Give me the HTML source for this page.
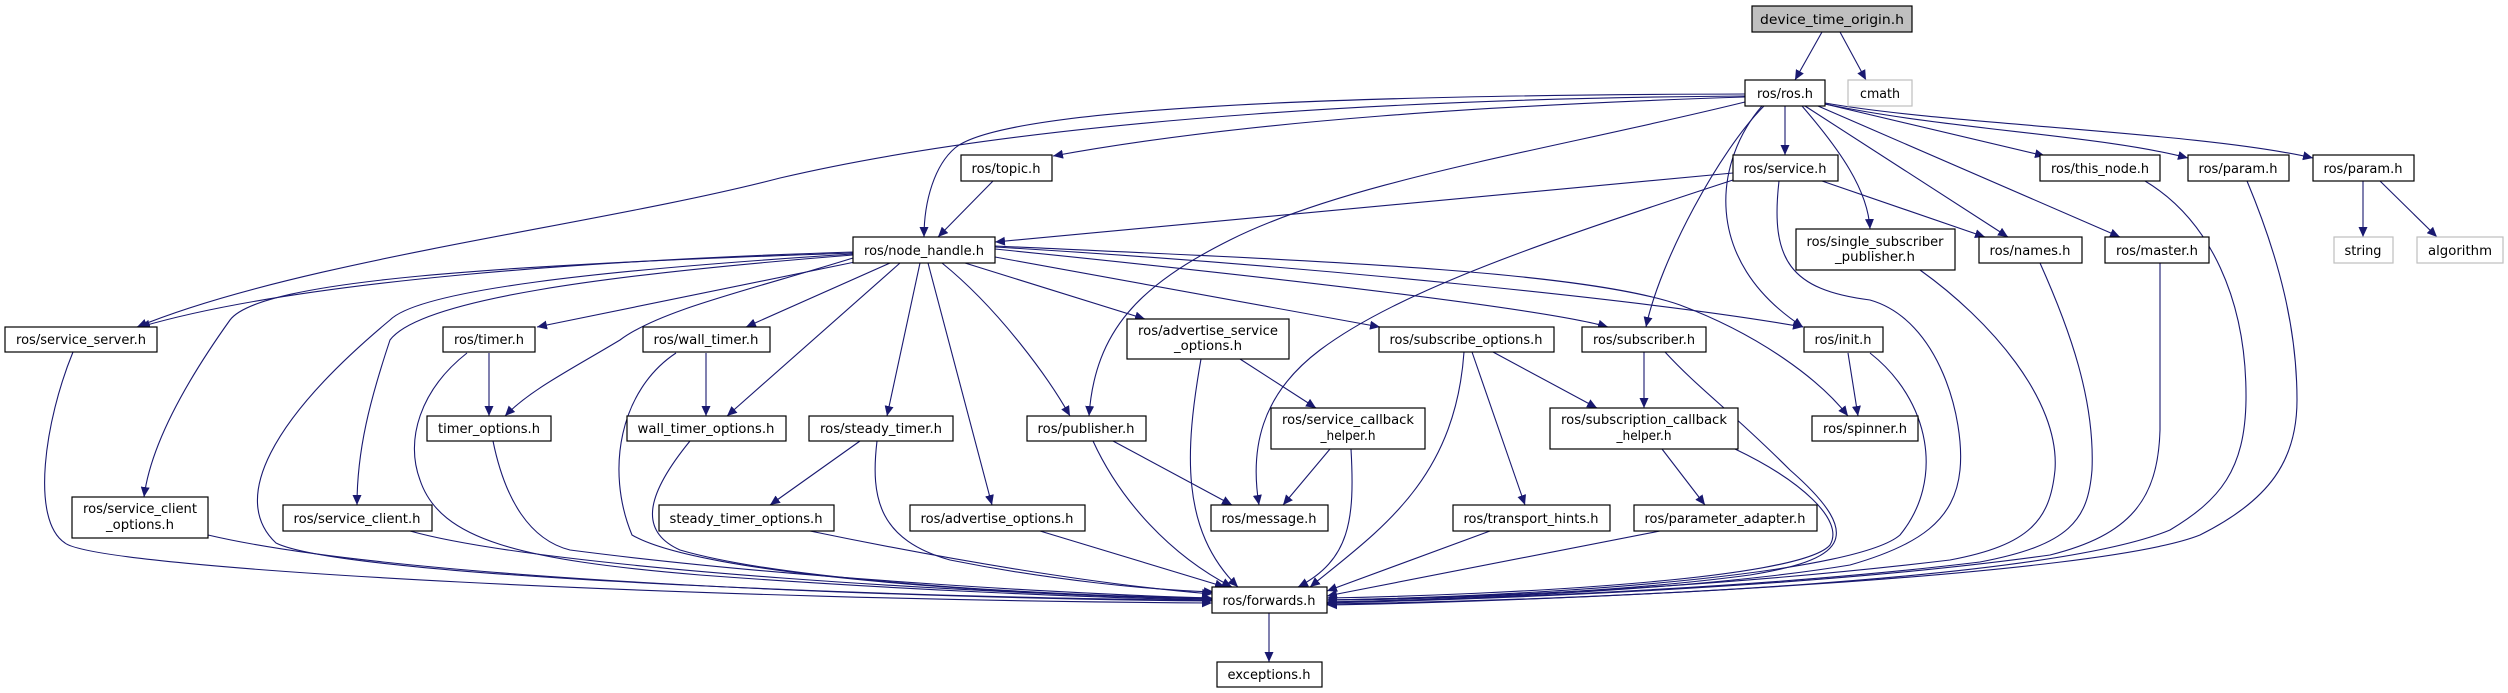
<!DOCTYPE html>
<html><head><meta charset="utf-8"><style>
html,body{margin:0;padding:0;background:#fff}
svg{display:block}
text{font-family:"DejaVu Sans","Liberation Sans",sans-serif;font-size:13px;fill:#000}
.e{fill:none;stroke:#191970;stroke-width:1.1}
.n{fill:#fff;stroke:#000;stroke-width:1.2}
.g{fill:#fff;stroke:#bfbfbf;stroke-width:1.2}
</style></head><body>
<svg width="2508" height="693" viewBox="0 0 2508 693" xmlns="http://www.w3.org/2000/svg">
<defs><marker id="a" markerUnits="userSpaceOnUse" markerWidth="11" markerHeight="9" refX="10" refY="4.5" orient="auto"><path d="M0,0 L10,4.5 L0,9 z" fill="#191970"/></marker></defs>
<g class="e" marker-end="url(#a)">
<path d="M1822,32 L1795,80"/>
<path d="M1840,32 L1866,80"/>
<path d="M1745,97 C1500,105 1250,120 1053,156"/>
<path d="M1745,94 C1300,95 1000,110 955,148 C935,165 924,200 924,237"/>
<path d="M1745,96 C1450,98 1050,115 780,178 C600,225 300,260 137,327"/>
<path d="M1745,102 C1550,150 1350,180 1230,240 C1140,285 1095,330 1089,416"/>
<path d="M1785,106 L1785,155"/>
<path d="M1802,106 C1840,150 1868,190 1870,229"/>
<path d="M1805,106 L2008,237"/>
<path d="M1818,106 L2120,237"/>
<path d="M1825,104 L2045,156"/>
<path d="M1825,104 C1950,130 2100,135 2188,158"/>
<path d="M1825,103 C1950,125 2200,132 2313,158"/>
<path d="M1764,106 C1720,150 1660,260 1646,327"/>
<path d="M1762,106 C1715,160 1700,260 1803,327"/>
<path d="M993,181 L938,237"/>
<path d="M1733,173 C1450,200 1200,225 995,242"/>
<path d="M1733,180 C1550,240 1400,290 1320,350 C1260,395 1250,450 1259,505"/>
<path d="M1822,181 L1985,237"/>
<path d="M1779,181 C1770,260 1790,290 1870,300 C1940,320 1965,420 1960,470 C1955,520 1920,545 1850,565 C1700,590 1450,600 1327,602"/>
<path d="M1870,353 C1930,400 1945,480 1900,535 C1860,570 1600,595 1327,600"/>
<path d="M1920,270 C1990,320 2060,400 2055,470 C2050,520 2030,545 1950,560 C1700,590 1450,598 1327,600"/>
<path d="M2040,263 C2070,330 2095,400 2092,470 C2088,520 2070,545 1980,562 C1750,590 1450,600 1327,602"/>
<path d="M2160,263 L2160,430 C2158,500 2130,535 2050,555 C1800,590 1450,600 1327,603"/>
<path d="M2145,181 C2210,220 2247,300 2246,400 C2245,470 2220,500 2170,530 C2050,580 1600,600 1327,604"/>
<path d="M2247,181 C2280,260 2297,330 2297,400 C2297,460 2270,500 2200,535 C2100,575 1600,600 1327,605"/>
<path d="M2363,181 L2363,237"/>
<path d="M2380,181 L2437,237"/>
<path d="M1644,352 L1644,408"/>
<path d="M1665,352 C1700,390 1730,410 1790,470 C1870,540 1840,560 1750,575 C1600,595 1400,600 1327,600"/>
<path d="M1662,449 L1705,505"/>
<path d="M1735,449 C1800,480 1845,520 1830,545 C1800,580 1500,595 1327,598"/>
<path d="M1848,353 L1858,416"/>
<path d="M995,246 C1300,260 1580,270 1680,305 C1760,335 1820,380 1848,416"/>
<path d="M995,247 C1300,265 1650,300 1803,327"/>
<path d="M995,249 C1300,280 1550,310 1608,327"/>
<path d="M995,257 L1380,327"/>
<path d="M965,263 L1145,319"/>
<path d="M942,263 C1000,310 1050,380 1070,416"/>
<path d="M928,263 L992,505"/>
<path d="M920,263 L887,416"/>
<path d="M853,252 C600,260 300,280 140,327"/>
<path d="M853,253 C500,265 260,280 230,320 C180,390 150,450 144,497"/>
<path d="M853,254 C600,270 420,290 390,320 C270,420 230,500 276,543 C350,580 1000,600 1212,600"/>
<path d="M853,255 C600,275 420,300 390,340 C370,400 357,450 357,505"/>
<path d="M853,258 C750,290 660,310 620,340 C570,370 530,390 505,416"/>
<path d="M855,262 L537,327"/>
<path d="M890,263 L746,327"/>
<path d="M900,263 L727,416"/>
<path d="M489,353 L489,416"/>
<path d="M467,353 C420,390 405,440 420,480 C440,540 520,560 700,575 C900,590 1100,598 1212,600"/>
<path d="M706,353 L706,416"/>
<path d="M676,353 C620,390 605,470 632,535 C700,575 1000,595 1212,599"/>
<path d="M493,441 C505,500 530,540 570,550 C800,580 1100,595 1212,598"/>
<path d="M690,441 C650,490 635,530 680,550 C800,585 1100,597 1212,598"/>
<path d="M73,352 C45,420 30,520 65,543 C100,570 700,600 1212,603"/>
<path d="M208,535 C400,580 900,598 1212,601"/>
<path d="M410,531 C550,570 1000,595 1212,599"/>
<path d="M860,441 L770,505"/>
<path d="M877,441 C870,500 880,540 950,560 C1050,580 1150,590 1214,592"/>
<path d="M810,531 C950,560 1100,585 1212,594"/>
<path d="M1040,531 L1225,587"/>
<path d="M1113,441 L1232,505"/>
<path d="M1093,441 C1120,500 1170,555 1232,587"/>
<path d="M1240,359 L1316,408"/>
<path d="M1201,359 C1185,450 1180,530 1238,587"/>
<path d="M1330,449 L1283,505"/>
<path d="M1351,449 C1355,520 1350,560 1298,587"/>
<path d="M1493,352 L1597,408"/>
<path d="M1472,352 L1525,505"/>
<path d="M1464,352 C1455,480 1380,530 1310,587"/>
<path d="M1490,531 L1327,591"/>
<path d="M1660,531 L1327,596"/>
<path d="M1269,613 L1269,662"/>
</g>
<rect x="1752" y="6" width="160" height="26" fill="#bfbfbf" stroke="#000" stroke-width="1.2"/><text x="1832" y="24" text-anchor="middle" textLength="144" lengthAdjust="spacingAndGlyphs">device_time_origin.h</text>
<rect class="n" x="1745" y="80" width="80" height="26"/><text x="1785" y="98" text-anchor="middle" textLength="56" lengthAdjust="spacingAndGlyphs">ros/ros.h</text>
<rect class="g" x="1848" y="80" width="64" height="26"/><text x="1880" y="98" text-anchor="middle" textLength="40" lengthAdjust="spacingAndGlyphs">cmath</text>
<rect class="n" x="961" y="155" width="91" height="26"/><text x="1006" y="173" text-anchor="middle" textLength="69" lengthAdjust="spacingAndGlyphs">ros/topic.h</text>
<rect class="n" x="1733" y="155" width="105" height="26"/><text x="1785" y="173" text-anchor="middle" textLength="83" lengthAdjust="spacingAndGlyphs">ros/service.h</text>
<rect class="n" x="2040" y="155" width="120" height="26"/><text x="2100" y="173" text-anchor="middle" textLength="98" lengthAdjust="spacingAndGlyphs">ros/this_node.h</text>
<rect class="n" x="2188" y="155" width="101" height="26"/><text x="2238" y="173" text-anchor="middle" textLength="79" lengthAdjust="spacingAndGlyphs">ros/param.h</text>
<rect class="n" x="2313" y="155" width="101" height="26"/><text x="2363" y="173" text-anchor="middle" textLength="79" lengthAdjust="spacingAndGlyphs">ros/param.h</text>
<rect class="n" x="853" y="237" width="142" height="26"/><text x="924" y="255" text-anchor="middle" textLength="120" lengthAdjust="spacingAndGlyphs">ros/node_handle.h</text>
<rect class="n" x="1796" y="229" width="159" height="41"/><text x="1875" y="246" text-anchor="middle" textLength="137" lengthAdjust="spacingAndGlyphs">ros/single_subscriber</text><text x="1875" y="261" text-anchor="middle" textLength="80" lengthAdjust="spacingAndGlyphs">_publisher.h</text>
<rect class="n" x="1979" y="237" width="103" height="26"/><text x="2030" y="255" text-anchor="middle" textLength="81" lengthAdjust="spacingAndGlyphs">ros/names.h</text>
<rect class="n" x="2105" y="237" width="104" height="26"/><text x="2157" y="255" text-anchor="middle" textLength="82" lengthAdjust="spacingAndGlyphs">ros/master.h</text>
<rect class="g" x="2334" y="237" width="59" height="26"/><text x="2363" y="255" text-anchor="middle" textLength="37" lengthAdjust="spacingAndGlyphs">string</text>
<rect class="g" x="2417" y="237" width="86" height="26"/><text x="2460" y="255" text-anchor="middle" textLength="64" lengthAdjust="spacingAndGlyphs">algorithm</text>
<rect class="n" x="5" y="327" width="152" height="25"/><text x="81" y="344" text-anchor="middle" textLength="130" lengthAdjust="spacingAndGlyphs">ros/service_server.h</text>
<rect class="n" x="443" y="327" width="92" height="25"/><text x="489" y="344" text-anchor="middle" textLength="70" lengthAdjust="spacingAndGlyphs">ros/timer.h</text>
<rect class="n" x="643" y="327" width="127" height="25"/><text x="706" y="344" text-anchor="middle" textLength="105" lengthAdjust="spacingAndGlyphs">ros/wall_timer.h</text>
<rect class="n" x="1127" y="319" width="162" height="40"/><text x="1208" y="335" text-anchor="middle" textLength="140" lengthAdjust="spacingAndGlyphs">ros/advertise_service</text><text x="1208" y="350" text-anchor="middle" textLength="68" lengthAdjust="spacingAndGlyphs">_options.h</text>
<rect class="n" x="1379" y="327" width="175" height="25"/><text x="1466" y="344" text-anchor="middle" textLength="153" lengthAdjust="spacingAndGlyphs">ros/subscribe_options.h</text>
<rect class="n" x="1582" y="327" width="124" height="25"/><text x="1644" y="344" text-anchor="middle" textLength="102" lengthAdjust="spacingAndGlyphs">ros/subscriber.h</text>
<rect class="n" x="1804" y="327" width="79" height="25"/><text x="1843" y="344" text-anchor="middle" textLength="57" lengthAdjust="spacingAndGlyphs">ros/init.h</text>
<rect class="n" x="427" y="416" width="124" height="25"/><text x="489" y="433" text-anchor="middle" textLength="102" lengthAdjust="spacingAndGlyphs">timer_options.h</text>
<rect class="n" x="627" y="416" width="159" height="25"/><text x="706" y="433" text-anchor="middle" textLength="137" lengthAdjust="spacingAndGlyphs">wall_timer_options.h</text>
<rect class="n" x="809" y="416" width="144" height="25"/><text x="881" y="433" text-anchor="middle" textLength="122" lengthAdjust="spacingAndGlyphs">ros/steady_timer.h</text>
<rect class="n" x="1027" y="416" width="119" height="25"/><text x="1086" y="433" text-anchor="middle" textLength="97" lengthAdjust="spacingAndGlyphs">ros/publisher.h</text>
<rect class="n" x="1271" y="408" width="154" height="41"/><text x="1348" y="424" text-anchor="middle" textLength="132" lengthAdjust="spacingAndGlyphs">ros/service_callback</text><text x="1348" y="440" text-anchor="middle" textLength="55" lengthAdjust="spacingAndGlyphs">_helper.h</text>
<rect class="n" x="1550" y="408" width="188" height="41"/><text x="1644" y="424" text-anchor="middle" textLength="166" lengthAdjust="spacingAndGlyphs">ros/subscription_callback</text><text x="1644" y="440" text-anchor="middle" textLength="55" lengthAdjust="spacingAndGlyphs">_helper.h</text>
<rect class="n" x="1812" y="416" width="106" height="25"/><text x="1865" y="433" text-anchor="middle" textLength="84" lengthAdjust="spacingAndGlyphs">ros/spinner.h</text>
<rect class="n" x="72" y="497" width="136" height="41"/><text x="140" y="513" text-anchor="middle" textLength="114" lengthAdjust="spacingAndGlyphs">ros/service_client</text><text x="140" y="529" text-anchor="middle" textLength="68" lengthAdjust="spacingAndGlyphs">_options.h</text>
<rect class="n" x="283" y="505" width="149" height="26"/><text x="357" y="523" text-anchor="middle" textLength="127" lengthAdjust="spacingAndGlyphs">ros/service_client.h</text>
<rect class="n" x="659" y="505" width="175" height="26"/><text x="746" y="523" text-anchor="middle" textLength="153" lengthAdjust="spacingAndGlyphs">steady_timer_options.h</text>
<rect class="n" x="910" y="505" width="175" height="26"/><text x="997" y="523" text-anchor="middle" textLength="153" lengthAdjust="spacingAndGlyphs">ros/advertise_options.h</text>
<rect class="n" x="1211" y="505" width="117" height="26"/><text x="1269" y="523" text-anchor="middle" textLength="95" lengthAdjust="spacingAndGlyphs">ros/message.h</text>
<rect class="n" x="1453" y="505" width="157" height="26"/><text x="1531" y="523" text-anchor="middle" textLength="135" lengthAdjust="spacingAndGlyphs">ros/transport_hints.h</text>
<rect class="n" x="1634" y="505" width="183" height="26"/><text x="1725" y="523" text-anchor="middle" textLength="161" lengthAdjust="spacingAndGlyphs">ros/parameter_adapter.h</text>
<rect class="n" x="1212" y="587" width="115" height="26"/><text x="1269" y="605" text-anchor="middle" textLength="93" lengthAdjust="spacingAndGlyphs">ros/forwards.h</text>
<rect class="n" x="1217" y="662" width="105" height="25"/><text x="1269" y="679" text-anchor="middle" textLength="83" lengthAdjust="spacingAndGlyphs">exceptions.h</text>
</svg>
</body></html>
